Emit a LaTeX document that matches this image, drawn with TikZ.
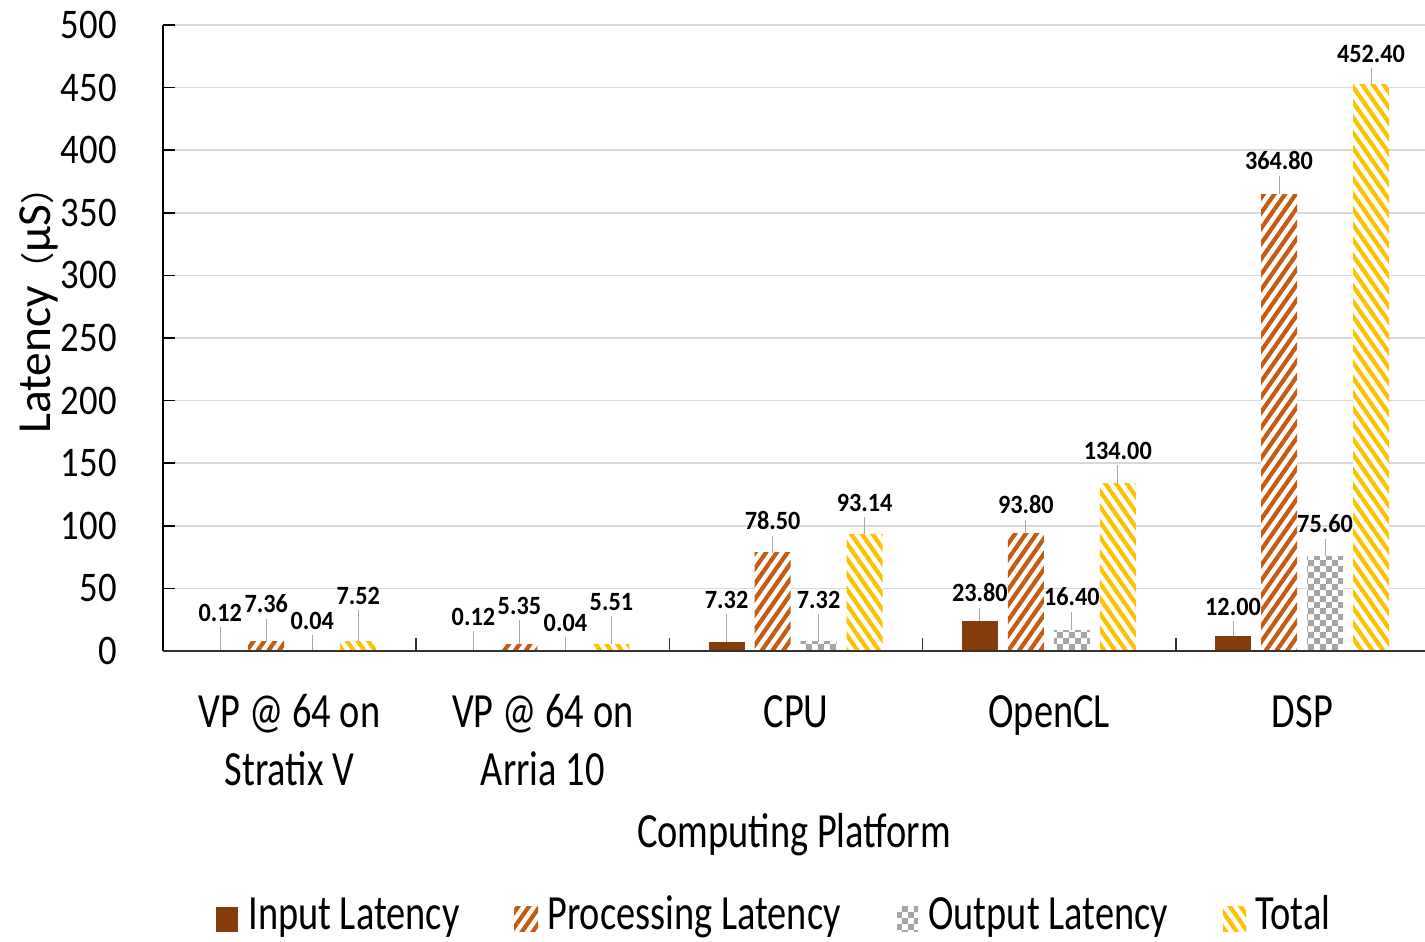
\documentclass[tikz,border=0pt]{standalone}
\usepackage{fontspec}
\usepackage{xcolor}
\usepackage{tikz}
\usetikzlibrary{patterns,patterns.meta}
\setmainfont{Carlito}
\newfontfamily\lblfont{Carlito}[FakeStretch=0.78]
\newfontfamily\tickfont{Carlito}[FakeStretch=0.87]
\newfontfamily\datafont{Carlito}[FakeStretch=0.92]
\newfontfamily\cjk{Noto Sans CJK SC}[Scale=0.72]
\definecolor{inputc}{HTML}{843C0C}
\definecolor{procc}{HTML}{C55A11}
\definecolor{outc}{HTML}{A5A5A5}
\definecolor{totc}{HTML}{FFC000}
\definecolor{gridc}{HTML}{D9D9D9}
\pgfdeclarepatternformonly{graychecks}{\pgfpointorigin}{\pgfqpoint{6.8pt}{6.8pt}}{\pgfqpoint{6.8pt}{6.8pt}}{%
  \pgfpathrectangle{\pgfpointorigin}{\pgfqpoint{3.4pt}{3.4pt}}%
  \pgfpathrectangle{\pgfqpoint{3.4pt}{3.4pt}}{\pgfqpoint{3.4pt}{3.4pt}}%
  \pgfusepath{fill}}

\begin{document}
\begin{tikzpicture}[x=.02cm,y=.02cm,
    bar0/.style={fill=inputc},
    bar1/.style={preaction={fill=white},pattern={Lines[angle=55,distance=5pt,line width=2.4pt]},pattern color=procc},
    bar2/.style={preaction={fill=white},pattern=graychecks,pattern color=outc},
    bar3/.style={preaction={fill=white},pattern={Lines[angle=-55,distance=5pt,line width=2.4pt]},pattern color=totc},
    vallbl/.style={font=\datafont\bfseries\fontsize{15}{18}\selectfont,inner sep=3pt},
    leader/.style={draw=gray!70,line width=.5pt},
    ticklbl/.style={font=\tickfont\fontsize{24}{28}\selectfont,anchor=east,inner sep=0pt},
    catlbl/.style={font=\lblfont\fontsize{28}{33}\selectfont,anchor=base,inner sep=0pt},
    leglbl/.style={font=\lblfont\fontsize{28}{33}\selectfont,anchor=base west,inner sep=0pt}]
    \useasboundingbox (0,0) rectangle (1425,942);
    \foreach \k in {1,...,10}
      \draw[gridc,line width=1pt] (163,{291+62.6*\k}) -- (1425,{291+62.6*\k});
    \draw[line width=1pt] (163,291) -- (163,917);
    \foreach \k in {0,...,10}{
      \pgfmathtruncatemacro\tv{50*\k}
      \draw[line width=1pt] (163,{291+62.6*\k}) -- (175,{291+62.6*\k});
      \node[ticklbl] (y\k) at (117,{291+62.6*\k}) {\tv};
    }
    \foreach \g/\s/\v/\ly in {0/0/0.12/613,0/1/7.36/604,0/2/0.04/621,0/3/7.52/596,
        1/0/0.12/617,1/1/5.35/606,1/2/0.04/623,1/3/5.51/602,
        2/0/7.32/600,2/1/78.50/521,2/2/7.32/600,2/3/93.14/503,
        3/0/23.80/593,3/1/93.80/505,3/2/16.40/597,3/3/134.00/451,
        4/0/12.00/607,4/1/364.80/161,4/2/75.60/524,4/3/452.40/54}{
      \pgfmathsetmacro\bx{163+253.2*\g+126.2+(\s-1.5)*46}
      \fill[bar\s] ({\bx-18},291) rectangle ({\bx+18},{291+1.252*\v});
      \coordinate (t\g\s) at (\bx,{291+1.252*\v});
      \node[vallbl] (v\g\s) at (\bx,{942-\ly}) {\v};
      \draw[leader] (t\g\s) -- (v\g\s.south);
    }
    \draw[line width=1.2pt,black!80] (163,291) -- (1425,291);
    \foreach \k in {1,...,4}
      \draw[line width=1pt,black!80] ({163+253.2*\k},291) -- ({163+253.2*\k},304);
    \node[catlbl] (c0a) at (289.6,214) {VP @ 64 on};
    \node[catlbl] (c0b) at (289.6,156) {Stratix V};
    \node[catlbl] (c1a) at (542.8,214) {VP @ 64 on};
    \node[catlbl] (c1b) at (542.8,156) {Arria 10};
    \node[catlbl] (c2) at (796,214) {CPU};
    \node[catlbl] (c3) at (1049.2,214) {OpenCL};
    \node[catlbl] (c4) at (1302.4,214) {DSP};
    \node[catlbl] (xt) at (794,94) {Computing Platform};
    \node[rotate=90,anchor=base,inner sep=0pt,font=\fontsize{27}{32}\selectfont] (yt) at (50,640) {Latency{\cjk （}μS{\cjk ）}};
    \fill[bar0] (216,10) rectangle (238,35);
    \node[leglbl] (l0) at (248,12) {Input Latency};
    \fill[bar1] (514,10) rectangle (538,35);
    \node[leglbl] (l1) at (547,12) {Processing Latency};
    \fill[bar2] (897,10) rectangle (918,35);
    \node[leglbl] (l2) at (928,12) {Output Latency};
    \fill[bar3] (1223,10) rectangle (1246,35);
    \node[leglbl] (l3) at (1255,12) {Total};
  \end{tikzpicture}
\end{document}
